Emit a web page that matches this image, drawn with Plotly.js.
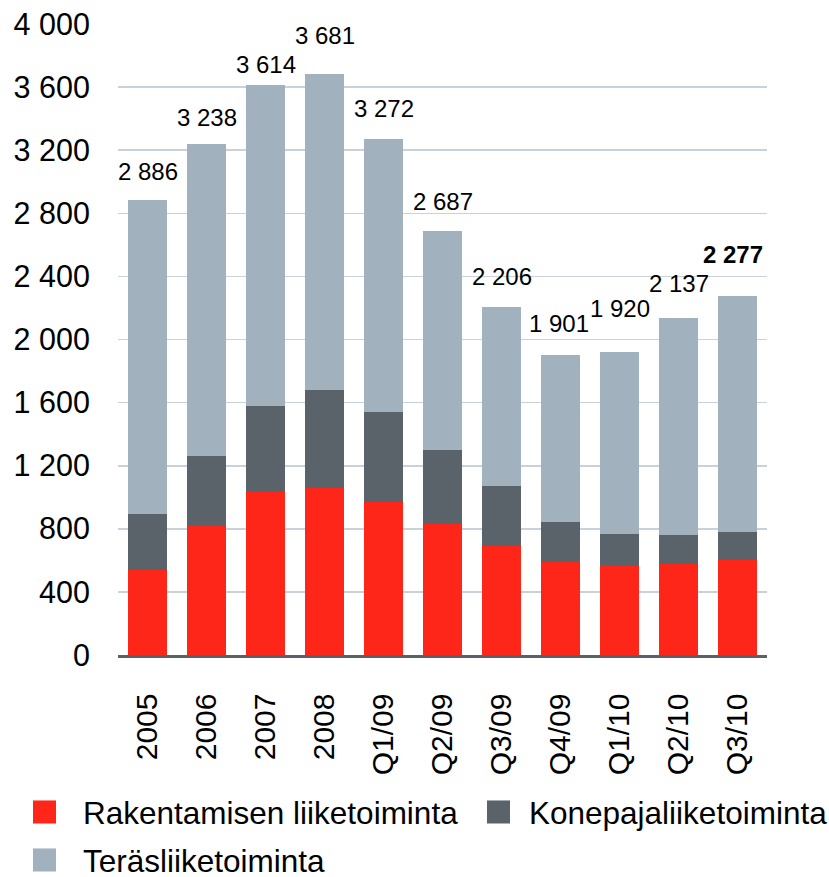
<!DOCTYPE html>
<html>
<head>
<meta charset="utf-8">
<script src="https://cdn.plot.ly/plotly-3.0.1.min.js"></script>
<style>html,body{margin:0;padding:0;background:#fff;}#chart{width:829px;height:877px;}</style>
</head>
<body>
<div id="chart"></div>
<script>
var categories = ["2005", "2006", "2007", "2008", "Q1/09", "Q2/09", "Q3/09", "Q4/09", "Q1/10", "Q2/10", "Q3/10"];
var rakentamisen = [541, 820, 1031, 1056, 972, 833, 693, 592, 567, 579, 605];
var konepaja = [355, 443, 549, 625, 570, 468, 380, 253, 203, 184, 177];
var teras = [1990, 1975, 2034, 2000, 1730, 1386, 1133, 1056, 1150, 1374, 1495];
var totals = [2886, 3238, 3614, 3681, 3272, 2687, 2206, 1901, 1920, 2137, 2277];
var totalLabels = ["2 886", "3 238", "3 614", "3 681", "3 272", "2 687", "2 206", "1 901", "1 920", "2 137", "<b>2 277</b>"];
var tickVals = [0, 400, 800, 1200, 1600, 2000, 2400, 2800, 3200, 3600, 4000];
var tickText = ["0", "400", "800", "1 200", "1 600", "2 000", "2 400", "2 800", "3 200", "3 600", "4 000"];

// label placement style (pixel gaps above bars)
var labelGap = [19, 17, 11, 29, 21, 20, 21, 22, 34, 25, 32];
var labelDx = [0, 0, 0, 0, 0, 0, 0, -2, 0, 0, -5];

var FONT = 'Liberation Sans, Arial, sans-serif';

var traces = [
  {type: 'bar', name: 'Rakentamisen liiketoiminta', x: categories, y: rakentamisen, marker: {color: '#fe2618'}, hoverinfo: 'none', legend: 'legend'},
  {type: 'bar', name: 'Konepajaliiketoiminta', x: categories, y: konepaja, marker: {color: '#5b636a'}, hoverinfo: 'none', legend: 'legend2'},
  {type: 'bar', name: 'Teräsliiketoiminta', x: categories, y: teras, marker: {color: '#a2b1be'}, hoverinfo: 'none', legend: 'legend3'}
];

var annotations = categories.map(function (c, i) {
  return {
    x: i, y: totals[i], xref: 'x', yref: 'y',
    text: totalLabels[i], showarrow: false,
    yanchor: 'bottom', xanchor: 'center',
    yshift: labelGap[i] - 6, xshift: labelDx[i],
    font: {family: FONT, size: 24, color: '#000'}
  };
});

var legendFont = {family: FONT, size: 31.5, color: '#000'};
function legendAt(x, y, itemw) {
  return {
    orientation: 'h', xref: 'container', yref: 'container',
    x: x / 829, y: 1 - y / 877, xanchor: 'left', yanchor: 'middle',
    font: legendFont, itemwidth: itemw, borderwidth: 0,
    itemclick: false, itemdoubleclick: false, bgcolor: 'rgba(0,0,0,0)'
  };
}

var layout = {
  width: 829, height: 877,
  margin: {l: 118, r: 62, t: 24, b: 222},
  paper_bgcolor: '#fff', plot_bgcolor: '#fff',
  barmode: 'stack', bargap: 0.34,
  showlegend: true,
  font: {family: FONT, color: '#000'},
  xaxis: {
    type: 'category', tickangle: -90, range: [-0.5, 10.5],
    tickfont: {size: 30, family: FONT, color: '#000'},
    showline: true, linecolor: '#5b6169', linewidth: 2.5,
    ticks: 'outside', ticklen: 24, tickcolor: 'rgba(0,0,0,0)',
    showgrid: false, zeroline: false
  },
  yaxis: {
    range: [0, 4000], tickvals: tickVals, ticktext: tickText,
    tickfont: {size: 30.5, family: FONT, color: '#000'},
    showgrid: true, gridcolor: '#c9d1da', gridwidth: 1.6,
    zeroline: false, showline: false,
    ticks: 'outside', ticklen: 21, tickcolor: 'rgba(0,0,0,0)'
  },
  legend: legendAt(6, 812, 67),
  legend2: legendAt(468, 812, 51),
  legend3: legendAt(6, 860, 67),
  annotations: annotations
};

Plotly.newPlot('chart', traces, layout, {displayModeBar: false, staticPlot: true}).then(function (gd) {
  // enlarge legend swatches to match the reference square size
  var paths = gd.querySelectorAll('.legendpoints path');
  paths.forEach(function (p) {
    var t = p.getAttribute('transform') || '';
    p.setAttribute('transform', t + ' scale(1.92)');
  });
});
</script>
</body>
</html>
